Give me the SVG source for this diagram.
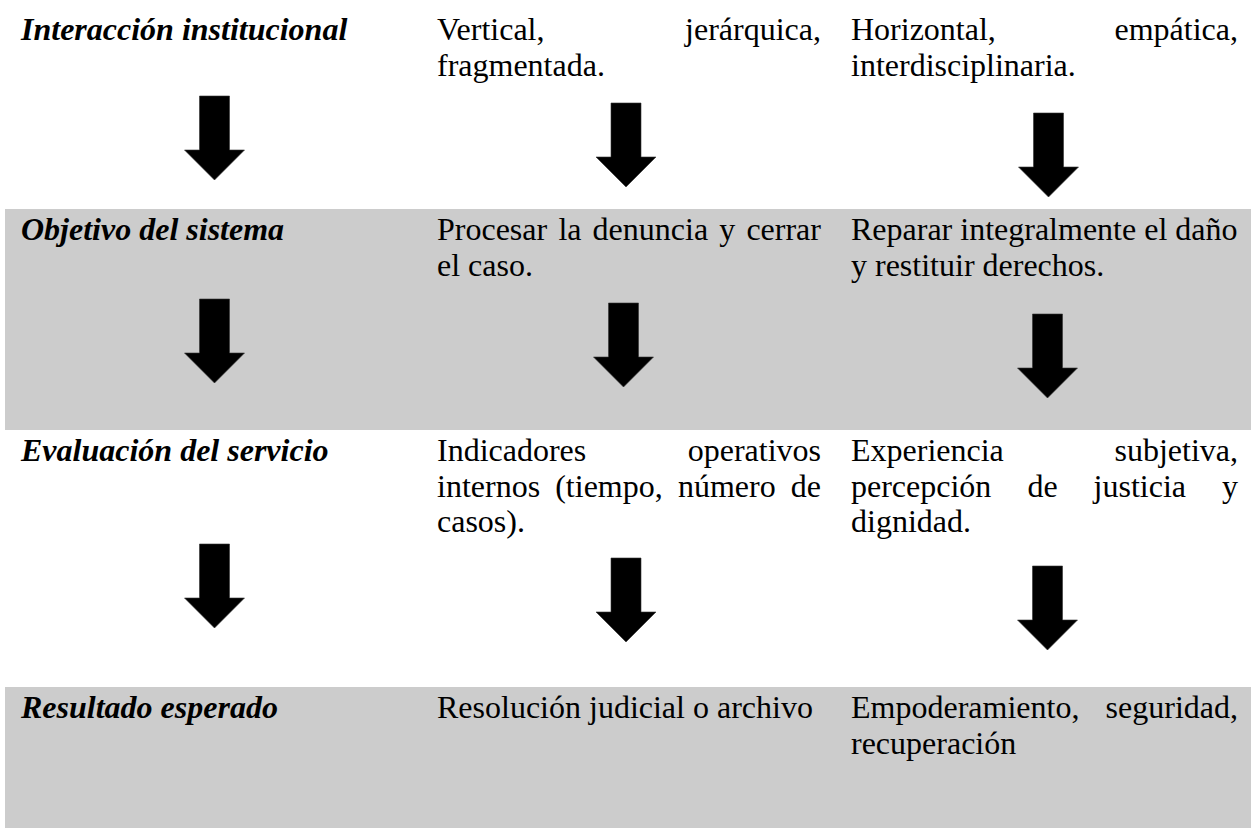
<svg xmlns="http://www.w3.org/2000/svg" width="1251" height="828" viewBox="0 0 1251 828">
<style>
  text { font-family: "Liberation Serif", "Times New Roman", serif; font-size: 32px; fill: #000; }
  .hd { font-weight: bold; font-style: italic; }
  .end { text-anchor: end; }
  .band { fill: #cccccc; }
  .arrow { fill: #000; stroke: #333; stroke-width: 0.6; }
</style>
<defs>
  <path id="arr" d="M -15 0 H 15 V 54 H 30 L 0 84 L -30 54 H -15 Z"/>
</defs>
<rect width="1251" height="828" fill="#ffffff"/>
<g id="bands">
  <rect class="band" x="5" y="209" width="1246" height="221"/>
  <rect class="band" x="5" y="687" width="1246" height="141"/>
</g>
<g id="row1">
  <g id="interaccion"><text class="hd" x="21" y="40">Interacción institucional</text></g>
  <g id="vertical">
    <text x="437" y="40">Vertical,</text>
    <text class="end" x="821" y="40">jerárquica,</text>
    <text x="437" y="75.5">fragmentada.</text>
  </g>
  <g id="horizontal">
    <text x="851" y="40">Horizontal,</text>
    <text class="end" x="1238" y="40">empática,</text>
    <text x="851" y="75.5">interdisciplinaria.</text>
  </g>
</g>
<g id="row2">
  <g id="objetivo"><text class="hd" x="21" y="240">Objetivo del sistema</text></g>
  <g id="procesar">
    <text y="240"><tspan x="437">Procesar</tspan><tspan x="558.4">la</tspan><tspan x="592.6">denuncia</tspan><tspan x="719.3">y</tspan><tspan x="746.4">cerrar</tspan></text>
    <text x="437" y="275.5">el caso.</text>
  </g>
  <g id="reparar">
    <text x="851" y="240">Reparar integralmente el daño</text>
    <text x="851" y="275.5">y restituir derechos.</text>
  </g>
</g>
<g id="row3">
  <g id="evaluacion"><text class="hd" x="21" y="461">Evaluación del servicio</text></g>
  <g id="indicadores">
    <text x="437" y="461">Indicadores</text>
    <text class="end" x="821" y="461">operativos</text>
    <text y="496.5"><tspan x="437">internos</tspan><tspan x="555.2">(tiempo,</tspan><tspan x="677.9">número</tspan><tspan x="790.8">de</tspan></text>
    <text x="437" y="532">casos).</text>
  </g>
  <g id="experiencia">
    <text x="851" y="461">Experiencia</text>
    <text class="end" x="1238" y="461">subjetiva,</text>
    <text y="496.5"><tspan x="851">percepción</tspan><tspan x="1027.4">de</tspan><tspan x="1093.6">justicia</tspan><tspan x="1222">y</tspan></text>
    <text x="851" y="532">dignidad.</text>
  </g>
</g>
<g id="row4">
  <g id="resultado"><text class="hd" x="21" y="718">Resultado esperado</text></g>
  <g id="resolucion"><text x="437" y="718">Resolución judicial o archivo</text></g>
  <g id="empoderamiento">
    <text x="851" y="718">Empoderamiento,</text>
    <text class="end" x="1238" y="718">seguridad,</text>
    <text x="851" y="753.5">recuperación</text>
  </g>
</g>
<g id="connectors">
  <use class="arrow" href="#arr" x="214.5" y="96"/>
  <use class="arrow" href="#arr" x="214.5" y="299"/>
  <use class="arrow" href="#arr" x="214.5" y="544"/>
  <use class="arrow" href="#arr" x="626" y="103"/>
  <use class="arrow" href="#arr" x="623.5" y="303"/>
  <use class="arrow" href="#arr" x="626" y="558"/>
  <use class="arrow" href="#arr" x="1048.5" y="113"/>
  <use class="arrow" href="#arr" x="1047.5" y="314"/>
  <use class="arrow" href="#arr" x="1047.5" y="566"/>
</g>
</svg>
